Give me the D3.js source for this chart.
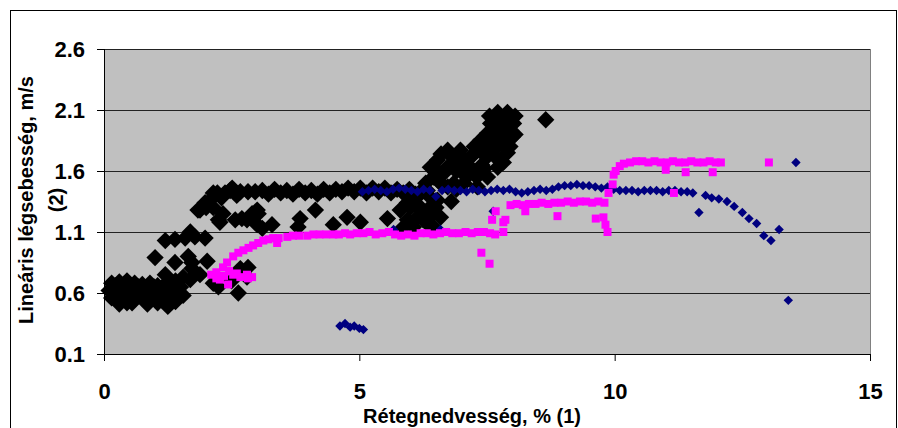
<!DOCTYPE html>
<meta charset="utf-8">
<script src="https://d3js.org/d3.v7.min.js"></script>
<style>
  body { margin: 0; background: #fff; }
  text { font-family: "Liberation Sans", Arial, sans-serif; font-weight: bold; fill: #000; }
</style>
<body>
<svg id="svg" width="898" height="428"></svg>
<script>
// axis ticks
var xTicks = [0, 5, 10, 15];
var yTicks = [0.1, 0.6, 1.1, 1.6, 2.1, 2.6];
var xTitle = "Rétegnedvesség, % (1)";
var yTitle = ["Lineáris légsebesség, m/s", "(2)"];

// series 1 - black diamonds (big)
var blackPts = [
  [0.15,0.68],[0.3,0.69],[0.45,0.70],[0.6,0.68],[0.75,0.67],[0.9,0.68],[1.05,0.66],[1.2,0.67],
  [0.2,0.62],[0.35,0.61],[0.5,0.63],[0.65,0.62],[0.8,0.6],[0.95,0.62],[1.1,0.61],[1.25,0.6],[1.4,0.63],
  [0.15,0.56],[0.3,0.55],[0.45,0.57],[0.6,0.55],[0.75,0.56],[0.9,0.54],[1.05,0.56],[1.2,0.55],[1.35,0.57],
  [0.3,0.51],[0.55,0.52],[0.85,0.51],[1.25,0.49],[1.4,0.53],[1.55,0.58],
  [0.1,0.62],[0.22,0.66],[0.38,0.65],[0.52,0.66],[0.68,0.65],[0.82,0.64],[0.98,0.65],[1.12,0.64],[1.28,0.64],
  [0.22,0.58],[0.38,0.58],[0.52,0.59],[0.68,0.58],[0.82,0.58],[0.98,0.58],[1.12,0.58],[1.28,0.58],
  [1.45,0.6],[1.5,0.65],[1.35,0.68],[0.45,0.52],[1.05,0.52],
  [1.2,0.75],[1.4,0.7],[1.55,0.73],[1.69,0.71],[1.88,0.75],[1.72,0.8],[2.02,0.86],[1.65,0.9],[1.39,0.85],
  [1.0,0.89],[1.72,0.85],[2.14,0.68],[2.24,0.65],[2.63,0.6],[2.67,0.8],[2.82,0.81],[2.8,0.73],[2.5,0.7],
  [1.2,1.03],[1.39,1.04],[1.59,1.05],[1.69,1.1],[1.78,1.06],[1.98,1.05],
  [1.84,1.28],[1.98,1.34],[2.08,1.36],[2.22,1.42],[2.37,1.42],[2.51,1.46],[2.67,1.43],[2.82,1.43],[2.96,1.43],
  [2.14,1.3],[2.27,1.18],[2.57,1.2],[2.33,1.25],[2.9,1.25],[3.0,1.16],[1.88,1.28],[2.14,1.42],[2.47,1.44],
  [2.7,1.21],[2.24,1.2],[2.0,1.3],[2.3,1.38],[2.6,1.4],
  [3.1,1.44],[3.22,1.41],[3.34,1.45],[3.46,1.42],[3.58,1.44],[3.7,1.41],[3.82,1.45],[3.94,1.42],[4.06,1.44],
  [4.18,1.41],[4.3,1.45],[4.42,1.42],[4.54,1.45],[4.66,1.43],[4.78,1.46],[4.9,1.43],[5.02,1.46],[5.14,1.42],
  [5.26,1.46],[5.38,1.43],[5.5,1.46],[5.62,1.42],[5.74,1.45],[5.86,1.42],[5.98,1.45],[6.1,1.41],[6.22,1.44],
  [2.8,1.2],[3.02,1.25],[3.1,1.13],[3.29,1.16],[3.84,1.21],[3.8,1.14],[4.14,1.28],[4.49,1.16],
  [4.76,1.22],[5.02,1.18],[5.55,1.21],[5.84,1.13],[3.0,1.28],
  [5.94,1.34],[6.14,1.39],[6.33,1.44],[6.53,1.36],[6.33,1.28],[6.14,1.22],[5.94,1.2],[6.33,1.17],[6.59,1.22],
  [5.8,1.28],[6.59,1.5],[6.73,1.47],[6.06,1.14],[6.45,1.14],[6.2,1.3],[6.45,1.25],[6.8,1.35],[6.9,1.45],
  [6.0,1.3],[6.25,1.2],[6.5,1.3],[6.4,1.38],[6.1,1.32],
  [6.53,1.69],[6.73,1.77],[6.98,1.77],[6.78,1.65],[6.53,1.6],[6.39,1.63],[7.14,1.7],[7.31,1.77],[7.37,1.85],
  [7.51,1.91],[7.57,1.99],[7.71,2.08],[7.9,2.08],[8.02,1.99],[8.0,1.88],[7.9,1.75],[7.82,1.67],[7.71,1.63],
  [7.51,1.55],[7.31,1.47],[7.76,2.02],[7.51,1.72],[7.63,1.8],[7.9,1.91],[6.9,1.6],[7.1,1.55],[6.85,1.5],
  [7.2,1.62],[7.65,1.95],[7.8,1.85],[7.4,1.65],
  [7.55,2.05],[7.6,1.9],[7.8,1.95],[7.95,1.8],[7.7,1.7],[7.45,1.62],[7.2,1.72],[7.0,1.72],[6.8,1.72],
  [6.6,1.74],[6.65,1.58],[6.45,1.55],[7.0,1.62],[7.3,1.55],[7.85,2.02],[8.05,2.05],[7.7,1.8],[6.3,1.5],
  [7.65,1.88],[7.75,1.95],[7.95,1.98],[8.05,1.9],[7.85,1.8],[7.55,1.82],[7.45,1.85],[7.7,2.0],[7.9,2.0],
  [6.9,1.7],[7.1,1.65],[6.7,1.62],[6.55,1.52],[7.05,1.5],[7.25,1.8],[7.4,1.75],
  [8.65,2.02]
];

// series 2 - navy diamonds (small)
var navyPts = [
  [4.62,0.33],[4.72,0.35],[4.82,0.32],[4.9,0.33],[5.0,0.31],[5.08,0.30],
  [5.06,1.43],[5.18,1.44],[5.3,1.45],[5.42,1.44],[5.54,1.43],[5.66,1.45],[5.78,1.46],[5.9,1.45],[6.02,1.44],
  [6.14,1.43],[6.26,1.45],[6.38,1.44],[6.5,1.39],[6.62,1.44],[6.74,1.45],[6.86,1.44],[6.98,1.44],[7.1,1.43],
  [7.22,1.45],[7.34,1.44],[7.46,1.43],[7.58,1.44],[7.7,1.45],[7.82,1.44],[7.94,1.45],[8.06,1.43],[8.18,1.42],
  [8.3,1.43],[8.42,1.44],[8.54,1.45],[8.66,1.44],[8.78,1.45],[8.9,1.47],[9.02,1.48],[9.14,1.48],[9.26,1.49],
  [9.38,1.48],[9.5,1.48],[9.62,1.47],[9.74,1.46],[9.86,1.47],[9.98,1.45],[10.1,1.44],[10.22,1.44],[10.34,1.44],
  [10.46,1.43],[10.58,1.44],[10.7,1.44],[10.82,1.44],[10.94,1.43],[11.06,1.44],[11.18,1.44],[11.3,1.43],[11.42,1.43],
  [11.53,1.42],[11.65,1.26],[11.78,1.40],[11.9,1.38],[12.04,1.37],[12.2,1.35],[12.34,1.31],[12.5,1.26],
  [12.63,1.21],[12.78,1.17],[12.92,1.07],[13.06,1.03],[13.22,1.12],[13.55,1.67],[13.4,0.54],
  [5.67,1.12],[6.59,1.12],[7.62,1.27]
];

// series 3 - magenta squares
var pinkPts = [
  [2.1,0.75],[2.2,0.77],[2.33,0.81],[2.41,0.85],[2.43,0.67],[2.27,0.71],[2.53,0.75],[2.67,0.73],[2.82,0.72],
  [2.9,0.73],[2.8,0.75],[2.35,0.74],[2.45,0.78],[2.2,0.72],[2.6,0.76],
  [2.53,0.9],[2.63,0.93],[2.73,0.95],[2.83,0.97],[2.92,0.99],[3.02,1.01],[3.12,1.03],[3.22,1.04],[3.31,1.05],
  [3.39,1.01],[3.42,1.05],[3.59,1.06],[3.7,1.07],[3.82,1.07],[3.98,1.07],[4.1,1.08],[4.22,1.08],[4.35,1.08],
  [4.49,1.08],[4.6,1.08],[4.72,1.09],[4.82,1.08],[4.95,1.09],[5.08,1.09],[5.2,1.1],[5.32,1.08],[5.45,1.09],
  [5.58,1.1],[5.7,1.08],[5.82,1.07],[5.95,1.08],[6.08,1.07],[6.2,1.09],[6.32,1.09],[6.45,1.08],[6.58,1.09],
  [6.7,1.1],[6.82,1.09],[6.95,1.09],[7.08,1.1],[7.2,1.09],[7.32,1.1],[7.44,1.1],[7.56,1.09],[7.66,1.08],
  [7.39,0.93],[7.55,0.84],[7.82,1.1],[7.82,1.18],
  [7.6,1.20],[7.67,1.27],[7.86,1.2],[7.96,1.32],[8.08,1.33],[8.2,1.32],[8.25,1.27],[8.32,1.33],[8.45,1.33],
  [8.57,1.34],[8.7,1.33],[8.82,1.34],[8.88,1.23],[8.95,1.34],[9.08,1.35],[9.2,1.34],[9.32,1.35],[9.44,1.35],
  [9.56,1.34],[9.63,1.21],[9.68,1.35],[9.78,1.22],[9.8,1.34],[9.86,1.10],[9.82,1.16],[9.88,1.42],[9.96,1.49],
  [9.98,1.57],[10.02,1.6],[10.1,1.64],[10.18,1.66],
  [10.3,1.67],[10.42,1.68],[10.54,1.68],[10.66,1.67],[10.78,1.68],[10.9,1.67],[11.0,1.61],[11.02,1.67],
  [11.14,1.68],[11.26,1.67],[11.39,1.59],[11.38,1.67],[11.5,1.68],[11.62,1.67],[11.74,1.67],[11.86,1.68],
  [11.92,1.59],[11.98,1.67],[12.08,1.67],[11.16,1.42],[13.02,1.67]
];

var svg = d3.select("#svg");

// outer chart frame
svg.append("rect")
  .attr("x", 10.5).attr("y", 10.5)
  .attr("width", 886).attr("height", 440)
  .attr("fill", "#fff").attr("stroke", "#000");

var x = d3.scaleLinear().domain([0, 15]).range([104, 870]);
var y = d3.scaleLinear().domain([0.1, 2.6]).range([354, 49]);

// plot area
svg.append("rect")
  .attr("x", x(0)).attr("y", y(2.6))
  .attr("width", x(15) - x(0)).attr("height", y(0.1) - y(2.6))
  .attr("fill", "#c0c0c0");

// gridlines
svg.append("g")
  .selectAll("line")
  .data(yTicks.slice(1))
  .enter().append("line")
  .attr("x1", x(0)).attr("x2", x(15))
  .attr("y1", function(d) { return Math.round(y(d)) + 0.5; })
  .attr("y2", function(d) { return Math.round(y(d)) + 0.5; })
  .attr("stroke", "#222").attr("stroke-width", 1.2);

// right edge of plot
svg.append("line")
  .attr("x1", x(15) + 0.5).attr("x2", x(15) + 0.5)
  .attr("y1", y(2.6)).attr("y2", y(0.1))
  .attr("stroke", "#808080");

// markers
var plot = svg.append("g");
var bigDiamond = d3.symbol().type(d3.symbolSquare).size(150);
var smallDiamond = d3.symbol().type(d3.symbolSquare).size(44);
var square = d3.symbol().type(d3.symbolSquare).size(64);

plot.append("g").selectAll("path")
  .data(blackPts).enter().append("path")
  .attr("d", bigDiamond)
  .attr("transform", function(d) { return "translate(" + x(d[0]) + "," + y(d[1]) + ") rotate(45)"; })
  .attr("fill", "#000");

plot.append("g").selectAll("path")
  .data(navyPts).enter().append("path")
  .attr("d", smallDiamond)
  .attr("transform", function(d) { return "translate(" + x(d[0]) + "," + y(d[1]) + ") rotate(45)"; })
  .attr("fill", "#000080");

plot.append("g").selectAll("path")
  .data(pinkPts).enter().append("path")
  .attr("d", square)
  .attr("transform", function(d) { return "translate(" + x(d[0]) + "," + y(d[1]) + ")"; })
  .attr("fill", "#ff00ff");

// axes
var yAxis = svg.append("g")
  .attr("transform", "translate(" + x(0) + ",0)")
  .call(d3.axisLeft(y).tickValues(yTicks).tickSize(7).tickPadding(12).tickFormat(d3.format(".1f")));
var xAxis = svg.append("g")
  .attr("transform", "translate(0," + y(0.1) + ")")
  .call(d3.axisBottom(x).tickValues(xTicks).tickSize(7).tickPadding(22).tickFormat(d3.format("d")));

[xAxis, yAxis].forEach(function(a) {
  a.select(".domain").attr("stroke", "#000");
  a.selectAll(".tick line").attr("stroke", "#000");
  a.selectAll(".tick text")
    .style("font-family", "'Liberation Sans', Arial, sans-serif")
    .style("font-weight", "bold")
    .style("font-size", "22px");
});
xAxis.select(".domain").attr("d", "M" + x(0) + ",0.5H" + x(15));
yAxis.select(".domain").attr("d", "M0.5," + y(2.6) + "V" + y(0.1));

// axis titles
svg.append("text")
  .attr("x", 472).attr("y", 423)
  .attr("text-anchor", "middle")
  .style("font-size", "20px")
  .text(xTitle);

svg.append("g")
  .selectAll("text")
  .data(yTitle)
  .enter().append("text")
  .attr("transform", function(d, i) { return "translate(" + (33 + i * 30) + ",200) rotate(-90)"; })
  .attr("text-anchor", "middle")
  .style("font-size", "20px")
  .text(function(d) { return d; });
</script>
</body>
